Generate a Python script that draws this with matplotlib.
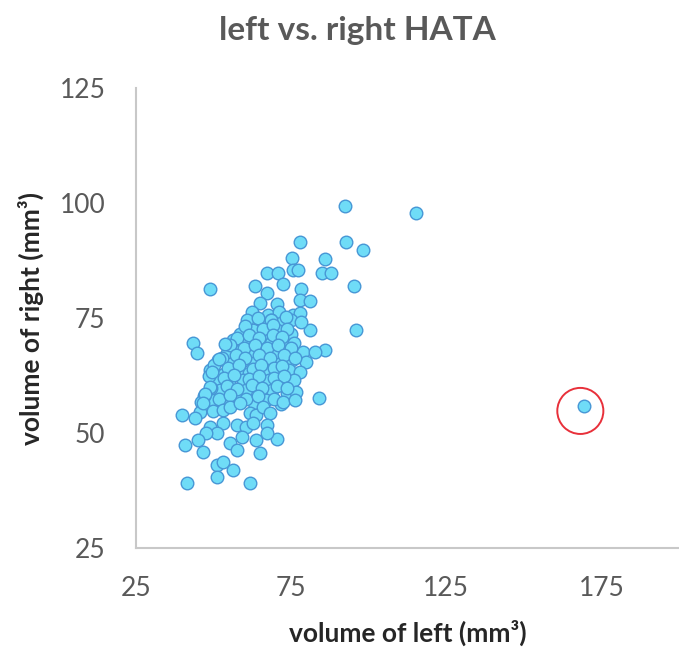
import numpy as np
import matplotlib
matplotlib.use('Agg')
import matplotlib.pyplot as plt

plt.rcParams['font.family'] = ['Lato', 'DejaVu Sans']

# volumes (mm^3)
left_vol = [
    # sparse upper points
    92.3, 78.0, 92.8, 98.0, 75.4, 85.8, 115.1,
    67.1, 70.8, 75.6, 77.2, 85.1, 88.0,
    72.4, 63.3, 49.0, 95.3, 78.1, 67.1, 78.0, 81.2, 64.9, 70.3,
    96.0, 81.0, 86.0, 43.4, 44.7, 84.0,
    # dense rows
    62.3, 67.6, 71.0, 75.5, 77.8,
    60.9, 65.2, 68.5, 71.6, 74.9, 78.3,
    58.4, 62.8, 67.4, 70.5, 74.9,
    56.1, 60.9, 64.1, 68.5, 72.0, 75.9,
    54.2, 58.8, 62.0, 66.4, 70.0, 74.3, 78.9, 82.6,
    51.5, 55.4, 59.8, 63.0, 67.5, 71.0, 75.4, 79.9,
    48.9, 53.2, 57.8, 61.4, 66.3, 70.0, 74.4, 77.8,
    50.8, 55.0, 59.4, 63.0, 67.9, 71.5, 75.9,
    47.8, 52.2, 56.6, 60.3, 65.2, 68.8, 73.8, 76.7,
    49.5, 54.5, 58.2, 63.1, 66.8, 71.6,
    # in-between rows
    64.3, 68.6, 73.3,
    60.0, 65.8, 69.2, 73.8,
    57.4, 61.3, 64.7, 69.3, 72.2,
    55.2, 59.8, 63.2, 67.3, 70.7, 74.8,
    52.6, 57.3, 60.2, 64.8, 68.2, 72.8, 76.2,
    50.2, 54.8, 58.2, 62.8, 65.2, 69.4, 72.2,
    48.6, 53.4, 56.7, 61.3, 64.7, 69.4, 72.7,
    49.2, 54.3, 57.7, 62.4, 65.7, 70.3, 73.7,
    46.9, 51.8, 55.2, 60.3, 64.2, 69.4,
    48.8, 46.1, 45.6, 49.4, 51.6, 53.8, 47.2,
    # lower part
    46.7, 49.9, 53.1, 55.3, 58.5, 61.7, 63.8, 66.0, 68.1, 72.3, 76.2,
    53.1, 57.4, 60.6, 62.7, 48.8, 67.1,
    51.0, 47.7, 55.3, 59.0, 63.8, 70.3, 67.1,
    39.7, 44.0, 40.8, 45.1, 46.7, 51.0, 53.1, 56.3, 51.0,
    41.3, 61.7, 57.4, 64.9,
    # outlier
    169.5,
]
right_vol = [
    99.4, 91.6, 91.6, 89.8, 88.1, 87.8, 97.8,
    84.7, 84.7, 85.4, 85.4, 84.7, 84.7,
    82.3, 82.0, 81.2, 82.0, 81.2, 80.4, 78.9, 78.7, 78.2, 78.0,
    72.5, 72.5, 68.0, 69.5, 67.3, 57.7,
    76.4, 75.6, 76.3, 75.7, 76.0,
    74.6, 73.8, 74.5, 73.9, 74.6, 74.2,
    71.6, 72.4, 71.7, 72.3, 71.6,
    70.3, 69.5, 70.2, 69.6, 70.3, 69.5,
    67.3, 68.1, 67.4, 68.0, 67.3, 68.1, 67.7, 67.7,
    65.9, 65.1, 65.8, 65.2, 65.9, 65.1, 65.8, 65.5,
    63.7, 62.9, 63.6, 63.0, 63.7, 62.9, 63.6, 63.3,
    61.6, 60.8, 61.5, 60.9, 61.6, 60.8, 61.5,
    58.6, 59.4, 58.7, 59.3, 58.6, 59.4, 58.7, 59.0,
    57.2, 56.4, 57.1, 56.5, 57.2, 56.4,
    75.0, 74.6, 75.3,
    73.3, 72.7, 73.4, 72.6,
    70.7, 71.3, 70.6, 71.4, 70.8,
    69.1, 68.5, 69.2, 68.4, 69.1, 68.5,
    66.3, 66.9, 66.2, 67.0, 66.3, 66.9, 66.4,
    64.7, 64.1, 64.8, 64.0, 64.7, 64.1, 64.6,
    62.5, 61.9, 62.6, 61.8, 62.5, 61.9, 62.4,
    59.7, 60.3, 59.6, 60.4, 59.7, 60.3, 59.8,
    58.1, 57.5, 58.2, 57.4, 58.1, 57.5,
    60.1, 56.8, 54.6, 63.3, 66.0, 69.3, 58.4,
    56.5, 54.7, 55.0, 55.7, 56.5, 54.3, 53.9, 55.7, 54.3, 56.8, 57.2,
    52.1, 51.7, 51.4, 52.1, 51.4, 51.7,
    49.9, 49.9, 47.8, 49.2, 48.5, 48.8, 49.9,
    53.9, 53.2, 47.4, 48.5, 45.9, 43.0, 43.8, 41.9, 40.5,
    39.1, 39.1, 46.3, 45.6,
    55.9,
]

# red ring around the outlier
ring_x, ring_y = 168.2, 54.8

xticks = [25, 75, 125, 175]
yticks = [25, 50, 75, 100, 125]

fig = plt.figure(figsize=(6.79, 6.5), dpi=100)
ax = fig.add_axes([0.2003, 0.1569, 0.7997, 0.7077])

ax.scatter(left_vol, right_vol, s=82, c='#6fdcf7', edgecolors='#4797d6',
           linewidths=1.0, zorder=3)
ax.scatter([ring_x], [ring_y], s=1100, facecolors='none', edgecolors='#e8303a',
           linewidths=1.4, zorder=4)

ax.set_xlim(25, 200)
ax.set_ylim(25, 125)
ax.set_xticks(xticks)
ax.set_yticks(yticks)

for side in ['top', 'right']:
    ax.spines[side].set_visible(False)
for side in ['left', 'bottom']:
    ax.spines[side].set_color('#c8c8c8')
    ax.spines[side].set_linewidth(1.5)

ax.tick_params(length=0, labelsize=19, labelcolor='#595959')
ax.tick_params(axis='x', pad=20)
ax.tick_params(axis='y', pad=22)

ax.set_xlabel('volume of left (mm³)', fontsize=19, fontweight='bold',
              color='#262626', labelpad=14)
ax.set_ylabel('volume of right (mm³)', fontsize=19, fontweight='bold',
              color='#262626', labelpad=11)
fig.suptitle('left vs. right HATA', x=0.527, y=0.975, fontsize=24,
             fontweight='bold', color='#595959')

plt.savefig('out.png', dpi=100)
